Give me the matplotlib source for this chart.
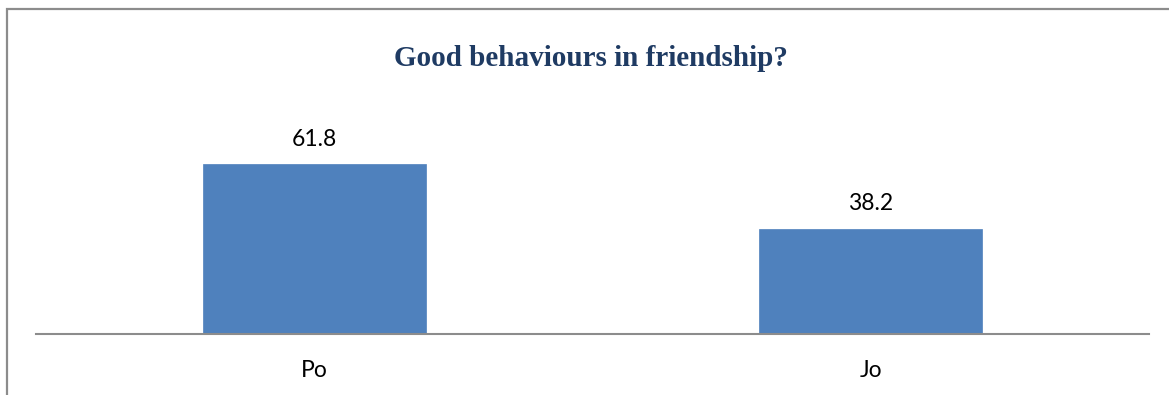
import matplotlib
matplotlib.use("Agg")
import matplotlib.pyplot as plt
from matplotlib.patches import Rectangle

categories = ["Po", "Jo"]
values = [61.8, 38.2]
title = "Good behaviours in friendship?"

W, H = 1169, 395
fig = plt.figure(figsize=(W / 100, H / 100), dpi=100)
fig.patch.set_facecolor("white")

# figure border (only top & left visible in reference)
fig.add_artist(Rectangle((6.5 / W, -0.1), 1.2, (H - 8.5) / H + 0.1,
                         transform=fig.transFigure, fill=False,
                         edgecolor="#8c8c8c", linewidth=1.6))

ax_left, ax_right = 36 / W, 1149 / W
ax_bottom = (H - 334) / H
ymax = 70
px_per_unit = 2.75
ax_top = (H - (334 - ymax * px_per_unit)) / H
ax = fig.add_axes([ax_left, ax_bottom, ax_right - ax_left, ax_top - ax_bottom])

x = list(range(len(categories)))
bars = ax.bar(x, values, width=0.4, color="#4F81BD", edgecolor="#4F81BD", linewidth=0.5)
ax.set_xlim(-0.5, len(categories) - 0.5)
ax.set_ylim(0, ymax)

for b, v in zip(bars, values):
    ax.annotate(f"{v:.1f}", (b.get_x() + b.get_width() / 2, v),
                xytext=(0, 18), textcoords="offset points",
                ha="center", va="center", fontsize=16.5, family="Lato", color="black")

ax.set_xticks(x)
ax.set_xticklabels(categories, fontsize=16.5, family="Lato")
ax.tick_params(axis="x", length=0, pad=18.5)
ax.set_yticks([])
for s in ["top", "right", "left"]:
    ax.spines[s].set_visible(False)
ax.spines["bottom"].set_color("#8c8c8c")
ax.spines["bottom"].set_linewidth(1.5)
ax.set_facecolor("none")

fig.text(591 / W, (H - 59) / H, title, ha="center", va="center",
         fontsize=21, fontweight="bold", family="Liberation Serif", color="#1F3B63")

fig.savefig("out.png", dpi=100)
